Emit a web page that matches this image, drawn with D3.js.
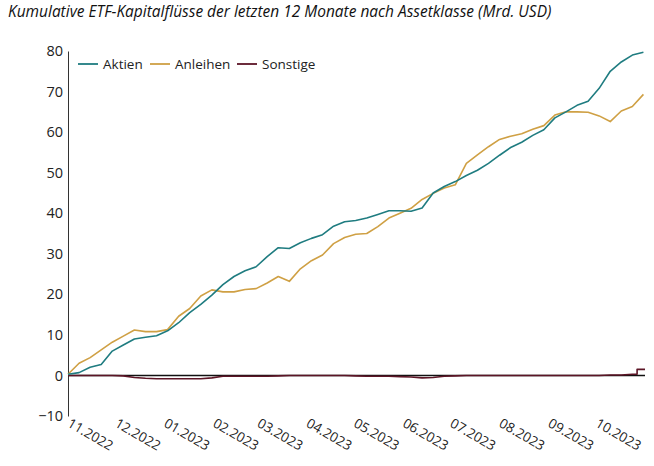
<!DOCTYPE html>
<html><head><meta charset="utf-8">
<script src="https://cdn.jsdelivr.net/npm/d3@7"></script>
<style>body{margin:0;background:#fff;} svg{display:block;}</style>
</head><body>
<svg id="c" width="654" height="466"></svg>
<script>
const title = "Kumulative ETF-Kapitalflüsse der letzten 12 Monate nach Assetklasse (Mrd. USD)";
const seriesNames = ["Aktien", "Anleihen", "Sonstige"];
const seriesColors = ["#1f7c80", "#cfa044", "#5c1526"];
const monthLabels = ["11.2022","12.2022","01.2023","02.2023","03.2023","04.2023","05.2023","06.2023","07.2023","08.2023","09.2023","10.2023"];
const yTicks = [-10,0,10,20,30,40,50,60,70,80];
// weekly observations (week index from 1 Nov 2022)
const weeks = d3.range(53);
const aktien = [0.3,0.7,2.0,2.7,6.0,7.5,9.0,9.4,9.8,11.0,13.0,15.5,17.5,19.8,22.4,24.4,25.8,26.8,29.3,31.5,31.3,32.7,33.8,34.7,36.8,37.9,38.2,38.8,39.7,40.6,40.6,40.5,41.3,45.0,46.6,47.8,49.3,50.6,52.3,54.3,56.2,57.5,59.2,60.6,63.5,65.0,66.6,67.6,70.8,75.0,77.3,79.0,79.7];
const anleihen = [0.3,3.0,4.4,6.3,8.2,9.7,11.2,10.8,10.8,11.3,14.6,16.5,19.6,21.1,20.6,20.6,21.2,21.4,22.8,24.4,23.2,26.3,28.3,29.7,32.5,34.0,34.8,35.0,36.7,38.8,40.0,41.2,43.4,44.9,46.2,47.0,52.3,54.4,56.4,58.2,59.0,59.6,60.7,61.6,64.2,65.0,65.0,64.9,64.0,62.6,65.2,66.3,69.3];
const sonstigeWeeks = [0,1,2,3,4,5,6,7,8,9,10,11,12,13,14,15,16,17,18,19,20,21,22,23,24,25,26,27,28,29,30,31,32,33,34,35,36,37,38,39,40,41,42,43,44,45,46,47,48,49,50,51,51.5,51.55,52.2];
const sonstige = [0,0,0,0,0,-0.1,-0.5,-0.7,-0.8,-0.8,-0.8,-0.8,-0.8,-0.6,-0.2,-0.2,-0.2,-0.2,-0.2,-0.1,0,0,0,0,0,0,-0.1,-0.2,-0.2,-0.2,-0.3,-0.4,-0.6,-0.5,-0.2,-0.1,0,0,0,0,0,0,0,0,0,0,0,0,0,0.1,0.1,0.3,0.3,1.5,1.5];

const svg = d3.select("#c");
const font = "'Open Sans', Lato, sans-serif";
const m = {left:68, right:645, top:51, bottom:416};
const start = new Date(2022,10,1), end = new Date(2023,10,1);
const x = d3.scaleTime().domain([start,end]).range([m.left,m.right]);
const wk = w => d3.timeDay.offset(start, w*7);
const y = d3.scaleLinear().domain([-10,80]).range([m.bottom,m.top]);

const t = svg.append("text").attr("x",8).attr("y",17)
  .attr("font-family",font).attr("font-style","italic").attr("font-weight",500)
  .attr("font-size",14).attr("fill","#111").text(title);
const tw = t.node().getComputedTextLength();
t.attr("font-size", 14*544/tw);

// y axis
const ya = svg.append("g").attr("transform",`translate(${m.left},0)`)
  .call(d3.axisLeft(y).tickValues(yTicks).tickSize(0).tickPadding(5).tickFormat(d=> d<0 ? "\u2212"+Math.abs(d) : d));
ya.select(".domain").attr("stroke","#333").attr("stroke-width",1);
ya.selectAll("text").attr("font-family",font).attr("font-size",14.5).attr("fill","#222");

// x axis labels
const months = monthLabels.map((d,i)=>d3.timeMonth.offset(start,i));
const xa = svg.append("g").attr("transform",`translate(0,${m.bottom})`)
  .call(d3.axisBottom(x).tickValues(months).tickSize(0).tickFormat((d,i)=>monthLabels[i]));
xa.select(".domain").remove();
xa.selectAll("text").attr("font-family",font).attr("font-size",13.5).attr("fill","#222")
  .attr("text-anchor","start").attr("dy",0).attr("y",0)
  .attr("transform","translate(-2,10) rotate(30)");

// zero line
svg.append("line").attr("x1",m.left).attr("x2",m.right).attr("y1",y(0)).attr("y2",y(0))
  .attr("stroke","#111").attr("stroke-width",1.6);

const line = d3.line().x(d=>x(wk(d[0]))).y(d=>y(d[1]));
const data = [
  weeks.map((w,i)=>[w,aktien[i]]),
  weeks.map((w,i)=>[w,anleihen[i]]),
  sonstigeWeeks.map((w,i)=>[w,sonstige[i]])
];
[2,1,0].forEach(k=>{
  svg.append("path").datum(data[k]).attr("d",line).attr("fill","none")
    .attr("stroke",seriesColors[k]).attr("stroke-width",1.6).attr("stroke-linejoin","round");
});

// legend
const lgX = [78,150,237];
const lg = svg.append("g");
seriesNames.forEach((n,i)=>{
  lg.append("line").attr("x1",lgX[i]).attr("x2",lgX[i]+20).attr("y1",64).attr("y2",64)
    .attr("stroke",seriesColors[i]).attr("stroke-width",1.8);
  lg.append("text").attr("x",lgX[i]+25).attr("y",69).attr("font-family",font)
    .attr("font-size",13.5).attr("fill","#222").text(n);
});
</script>
</body></html>
